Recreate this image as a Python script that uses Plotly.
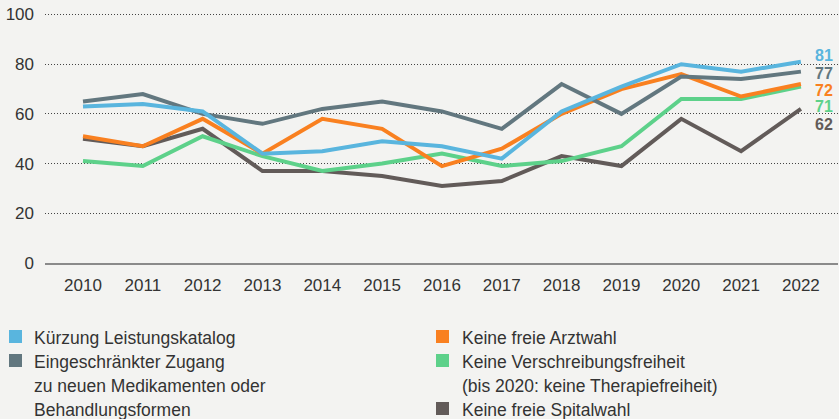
import plotly.graph_objects as go

years = list(range(2010, 2023))
kuerzung = [63, 64, 61, 44, 45, 49, 47, 42, 61, 71, 80, 77, 81]
zugang = [65, 68, 60, 56, 62, 65, 61, 54, 72, 60, 75, 74, 77]
arztwahl = [51, 47, 58, 44, 58, 54, 39, 46, 60, 70, 76, 67, 72]
verschreibung = [41, 39, 51, 43, 37, 40, 44, 39, 41, 47, 66, 66, 71]
spitalwahl = [50, 47, 54, 37, 37, 35, 31, 33, 43, 39, 58, 45, 62]

y_ticks = [0, 20, 40, 60, 80, 100]

C_BLUE = "#59b5de"
C_SLATE = "#62777f"
C_ORANGE = "#f98020"
C_GREEN = "#5dd18a"
C_GREY = "#625b59"
BG = "#f3f3f1"
TXT = "#333333"
FONT = "Liberation Sans, Arial, sans-serif"

# drawing order bottom -> top
series = [
    ("Keine freie Spitalwahl", spitalwahl, C_GREY, -16),
    ("Keine Verschreibungsfreiheit", verschreibung, C_GREEN, -20),
    ("Keine freie Arztwahl", arztwahl, C_ORANGE, -6),
    ("Eingeschränkter Zugang", zugang, C_SLATE, -2),
    ("Kürzung Leistungskatalog", kuerzung, C_BLUE, 6),
]

fig = go.Figure()
for name, vals, col, _ in series:
    fig.add_trace(go.Scatter(x=years, y=vals, mode="lines", name=name,
                             line=dict(color=col, width=4), showlegend=False,
                             hoverinfo="x+y+name"))

annotations = []
for name, vals, col, ys in series:
    annotations.append(dict(x=years[-1], y=vals[-1], xref="x", yref="y",
                            text=f"<b>{vals[-1]}</b>", showarrow=False,
                            xanchor="center", yanchor="middle",
                            xshift=23, yshift=ys,
                            font=dict(family=FONT, size=16, color=col)))

W, H = 839, 419
L, R, T, B = 45, 1, 12, 156
pw, ph = W - L - R, H - T - B
plot_bottom = H - B

def px2paper_x(px):
    return (px - L) / pw

def px2paper_y(py):
    return (plot_bottom - py) / ph

# legend: columns of lines
legend_col1 = [
    (C_BLUE, ["Kürzung Leistungskatalog"]),
    (C_SLATE, ["Eingeschränkter Zugang", "zu neuen Medikamenten oder", "Behandlungsformen"]),
]
legend_col2 = [
    (C_ORANGE, ["Keine freie Arztwahl"]),
    (C_GREEN, ["Keine Verschreibungsfreiheit", "(bis 2020: keine Therapiefreiheit)"]),
    (C_GREY, ["Keine freie Spitalwahl"]),
]
line_y = [336.5, 360.5, 384.5, 408.5]
shapes = []
for col_items, sq_x, tx_x in [(legend_col1, 9, 32), (legend_col2, 436, 460)]:
    row = 0
    for col, lines in col_items:
        cy = line_y[row]
        shapes.append(dict(type="rect", xref="paper", yref="paper",
                           x0=px2paper_x(sq_x), x1=px2paper_x(sq_x + 13),
                           y0=px2paper_y(cy + 6.5), y1=px2paper_y(cy - 6.5),
                           fillcolor=col, line=dict(width=0)))
        for ln in lines:
            annotations.append(dict(x=0, y=0, xref="paper", yref="paper",
                                    xshift=tx_x - L, yshift=plot_bottom - line_y[row] - 1,
                                    text=ln, showarrow=False,
                                    xanchor="left", yanchor="middle",
                                    font=dict(family=FONT, size=17.5, color=TXT)))
            row += 1

fig.update_layout(
    width=W, height=H,
    margin=dict(l=L, r=R, t=T, b=B, pad=0),
    paper_bgcolor=BG, plot_bgcolor=BG,
    font=dict(family=FONT, size=17, color=TXT),
    annotations=annotations, shapes=shapes,
    xaxis=dict(range=[2009.365, 2022.62], tickvals=years, showgrid=False,
               showline=True, linecolor="#8a8a8a", linewidth=1.5,
               ticks="", ticklabelstandoff=6, zeroline=False,
               tickfont=dict(size=17, color=TXT)),
    yaxis=dict(range=[0, 101], tickvals=y_ticks, showgrid=True,
               gridcolor="#444444", gridwidth=1, griddash="1px,2px",
               zeroline=False, showline=False, ticks="",
               ticklabelstandoff=10, tickfont=dict(size=17, color=TXT)),
)

fig.write_html("out.html", config={"displayModeBar": False},
               post_script="document.body.style.margin='0';document.body.style.background='%s';" % BG)
